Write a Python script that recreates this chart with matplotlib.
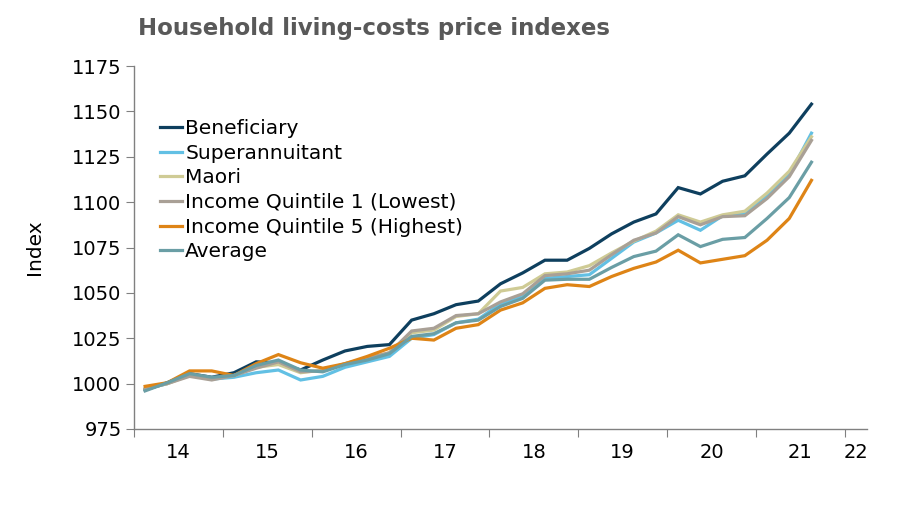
import numpy as np
import matplotlib
matplotlib.use("Agg")
import matplotlib.pyplot as plt

# quarterly index values (31 quarters plotted on a 33-slot category axis)
beneficiary = [996.5, 1000.5, 1005.5, 1003.5, 1006, 1012, 1011.5, 1007.5, 1013, 1018, 1020.5,
               1021.5, 1035, 1038.5, 1043.5, 1045.5, 1055, 1061, 1068, 1068, 1074.5, 1082.5,
               1089, 1093.5, 1108, 1104.5, 1111.5, 1114.5, 1126.5, 1138, 1154]
superannuitant = [997, 1000, 1005, 1002.5, 1003.5, 1006, 1007.5, 1002, 1004, 1009, 1012,
                  1015, 1025, 1027, 1033.5, 1035.5, 1044, 1048.5, 1058, 1059, 1060, 1069,
                  1078, 1083, 1090, 1084.5, 1092.5, 1093.5, 1104, 1115, 1138]
maori = [997, 1000, 1004.5, 1002.5, 1004.5, 1009, 1010.5, 1006, 1007.5, 1011, 1014,
         1017, 1028, 1029.5, 1037, 1038.5, 1051, 1053, 1060.5, 1061.5, 1065, 1072,
         1078.5, 1084, 1093, 1089, 1093, 1095, 1105, 1117, 1136]
quintile1 = [997, 1000, 1004, 1002, 1004.5, 1008.5, 1012, 1006.5, 1007, 1011, 1014,
             1017, 1029, 1030.5, 1037.5, 1038.5, 1045, 1049.5, 1059.5, 1060.5, 1062.5, 1071,
             1079, 1083, 1092, 1087.5, 1092, 1092.5, 1102, 1114, 1134]
quintile5 = [998.5, 1000.5, 1007, 1007, 1004.5, 1011, 1016, 1011.5, 1008.5, 1011, 1015,
             1019.5, 1025, 1024, 1030.5, 1032.5, 1040.5, 1044.5, 1052.5, 1054.5, 1053.5, 1059,
             1063.5, 1067, 1073.5, 1066.5, 1068.5, 1070.5, 1079, 1091, 1112]
average = [996, 1000.5, 1005.5, 1003.5, 1004.5, 1010, 1013, 1007.5, 1006.5, 1010.5, 1013,
           1016.5, 1026, 1027.5, 1033.5, 1035, 1042.5, 1047, 1057, 1057.5, 1057.5, 1064,
           1070, 1073, 1082, 1075.5, 1079.5, 1080.5, 1091, 1102.5, 1122]

labels = ["Beneficiary", "Superannuitant", "Maori", "Income Quintile 1 (Lowest)",
          "Income Quintile 5 (Highest)", "Average"]
colors = ["#0e3f5e", "#62c0e4", "#cfcb95", "#a9a096", "#de8416", "#6a9ea5"]
year_labels = ["14", "15", "16", "17", "18", "19", "20", "21", "22"]
n_slots = 33

plt.rcParams["font.family"] = "DejaVu Sans"

fig = plt.figure(figsize=(9, 5.09), dpi=100)
ax = fig.add_axes([134 / 900, 1 - 429 / 509, (867 - 134) / 900, (429 - 66) / 509])

series = [beneficiary, superannuitant, maori, quintile1, quintile5, average]
for vals, lab, col in zip(series, labels, colors):
    x = np.arange(len(vals))
    ax.plot(x, vals, color=col, lw=2.3, label=lab, solid_joinstyle="miter")

ax.set_xlim(-0.5, n_slots - 0.5)
ax.set_ylim(975, 1175)
ax.set_yticks(np.arange(975, 1176, 25))

# tick marks between years, labels centred in each year
ax.set_xticks(np.arange(-0.5, n_slots - 1, 4))
ax.set_xticklabels([])
centers = [4 * i + 1.5 for i in range(8)] + [n_slots - 1]
ax.set_xticks(centers, minor=True)
ax.set_xticklabels(year_labels, minor=True)
ax.tick_params(axis="x", which="minor", length=0, pad=10, labelsize=14)
ax.tick_params(axis="x", which="major", length=6, color="#808080", direction="out")
ax.tick_params(axis="y", length=6, color="#808080", labelsize=14, pad=3)

for s in ["top", "right"]:
    ax.spines[s].set_visible(False)
for s in ["left", "bottom"]:
    ax.spines[s].set_color("#808080")
    ax.spines[s].set_linewidth(1)

ax.set_ylabel("Index", fontsize=14.5, labelpad=20)

ax.legend(loc="upper left", bbox_to_anchor=(160 / 900, 1 - 119 / 509),
          bbox_transform=fig.transFigure, frameon=False, fontsize=14.5,
          handlelength=1.1, handletextpad=0.15, labelspacing=0.28,
          borderpad=0, borderaxespad=0)

fig.text(138 / 900, 1 - 28 / 509, "Household living-costs price indexes",
         fontsize=16.5, fontweight="bold", color="#595959", va="center", ha="left")

fig.savefig("out.png", dpi=100)
